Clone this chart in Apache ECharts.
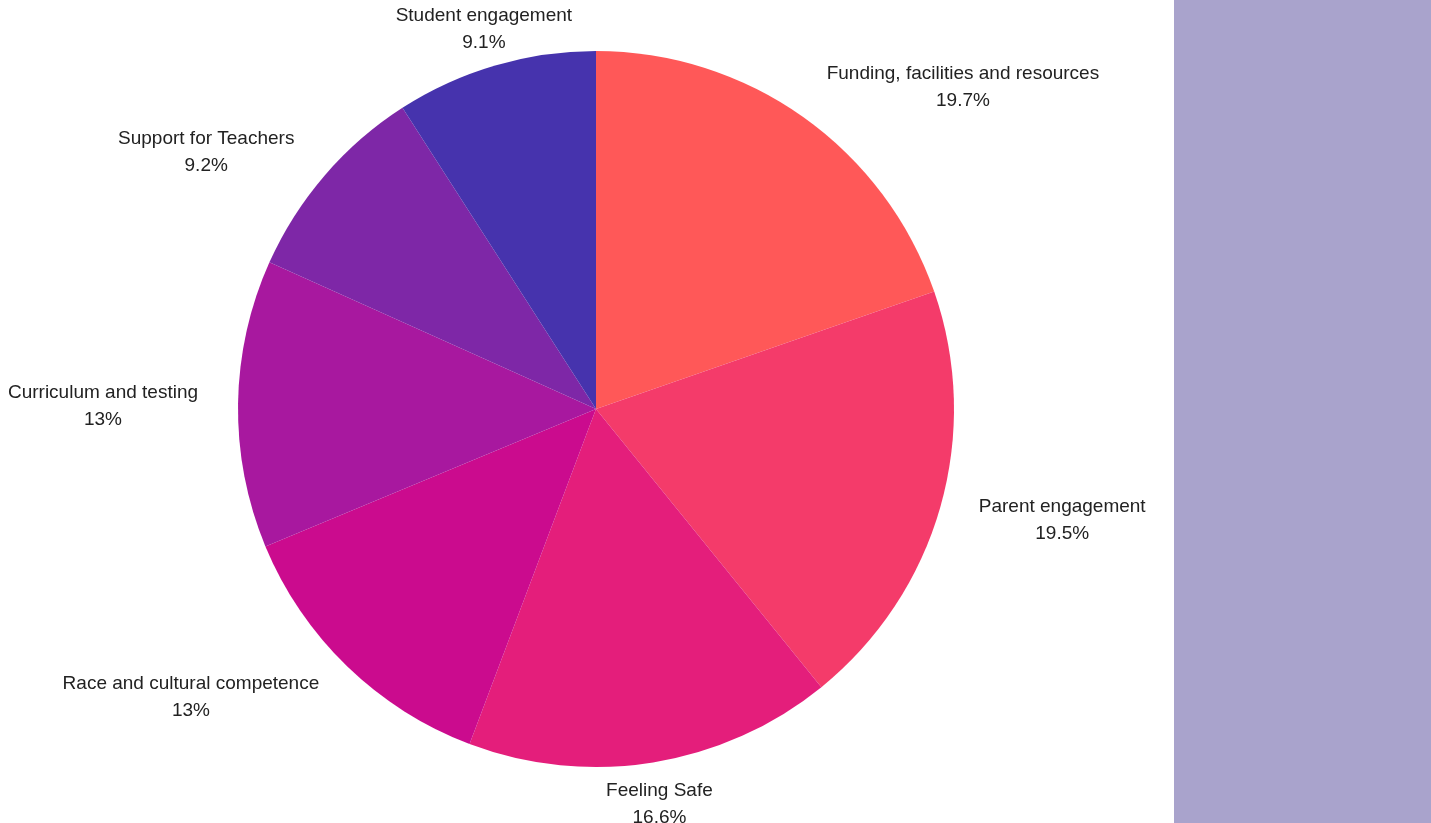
<!DOCTYPE html>
<html>
<head>
<meta charset="utf-8">
<title>Priorities</title>
<script src="https://cdn.jsdelivr.net/npm/echarts@6/dist/echarts.min.js"></script>
<style>
  html, body { margin: 0; padding: 0; background: #ffffff; }
  #chart { width: 1431px; height: 823px; }
</style>
</head>
<body>
<div id="chart"></div>
<script>
// Topic shares, clockwise from twelve o'clock
const categories = [
  'Funding, facilities and resources',
  'Parent engagement',
  'Feeling Safe',
  'Race and cultural competence',
  'Curriculum and testing',
  'Support for Teachers',
  'Student engagement'
];
const shares = [19.7, 19.5, 16.6, 13, 13, 9.2, 9.1];
const sliceColors = ['#ff5858', '#f43b6a', '#e41e7b', '#cb0b8e', '#a8189f', '#7e27a7', '#4633ad'];

const chart = echarts.init(document.getElementById('chart'), null, { renderer: 'canvas' });

// Place each label just beyond the rim on its slice's mid-angle;
// labels near the top or bottom are centred, the rest hang off to the side.
function placeLabel(p) {
  const data = chart.getModel().getSeriesByIndex(0).getData();
  const lay = data.getItemLayout(p.dataIndex);
  const mid = (lay.startAngle + lay.endAngle) / 2;
  const R = lay.r + 40;
  const c = Math.cos(mid);
  const ax = lay.cx + R * c;
  const ay = lay.cy + R * Math.sin(mid) + 2.5;
  const w = p.labelRect.width;
  let x = ax;
  if (Math.abs(c) >= 0.35) x = ax + Math.sign(c) * w / 2;
  return { x: x, y: ay, align: 'center', verticalAlign: 'middle' };
}

chart.setOption({
  animation: false,
  backgroundColor: '#ffffff',
  graphic: [{
    type: 'rect',
    right: 0,
    top: 0,
    z: -1,
    shape: { width: 257, height: 823 },
    style: { fill: '#a9a3cc' }
  }],
  series: [{
    type: 'pie',
    center: [596, 409],
    radius: 358,
    startAngle: 90,
    clockwise: true,
    avoidLabelOverlap: false,
    itemStyle: { borderWidth: 0 },
    label: {
      show: true,
      position: 'outside',
      formatter: p => p.name + '\n' + p.value + '%',
      fontFamily: '"Liberation Sans", Arial, sans-serif',
      fontSize: 19,
      lineHeight: 27,
      color: '#222222'
    },
    labelLine: { show: false },
    labelLayout: placeLabel,
    emphasis: { disabled: true },
    data: categories.map((name, i) => ({
      name: name,
      value: shares[i],
      itemStyle: { color: sliceColors[i] }
    }))
  }]
});
</script>
</body>
</html>
